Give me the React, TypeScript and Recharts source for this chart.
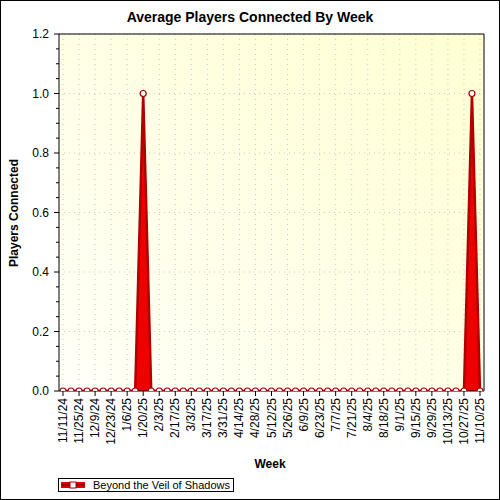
import { ComposedChart, Area, XAxis, YAxis, CartesianGrid } from 'recharts';

// weekly buckets, Monday of each week
const weeks = [
  '11/11/24', '11/18/24', '11/25/24', '12/2/24', '12/9/24', '12/16/24', '12/23/24', '12/30/24',
  '1/6/25', '1/13/25', '1/20/25', '1/27/25', '2/3/25', '2/10/25', '2/17/25', '2/24/25',
  '3/3/25', '3/10/25', '3/17/25', '3/24/25', '3/31/25', '4/7/25', '4/14/25', '4/21/25',
  '4/28/25', '5/5/25', '5/12/25', '5/19/25', '5/26/25', '6/2/25', '6/9/25', '6/16/25',
  '6/23/25', '6/30/25', '7/7/25', '7/14/25', '7/21/25', '7/28/25', '8/4/25', '8/11/25',
  '8/18/25', '8/25/25', '9/1/25', '9/8/25', '9/15/25', '9/22/25', '9/29/25', '10/6/25',
  '10/13/25', '10/20/25', '10/27/25', '11/3/25', '11/10/25',
];

const players = [
  0, 0, 0, 0, 0, 0, 0, 0, 0, 0, 1, 0, 0, 0, 0, 0,
  0, 0, 0, 0, 0, 0, 0, 0, 0, 0, 0, 0, 0, 0, 0, 0,
  0, 0, 0, 0, 0, 0, 0, 0, 0, 0, 0, 0, 0, 0, 0, 0,
  0, 0, 0, 1, 0,
];

// labelled x ticks (every second week) and every week for the top ruler
const labelTicks = [0, 2, 4, 6, 8, 10, 12, 14, 16, 18, 20, 22, 24, 26, 28, 30, 32, 34, 36, 38, 40, 42, 44, 46, 48, 50, 52];
const weekTicks = weeks.map((_, i) => i);

const yMajor = [0, 0.2, 0.4, 0.6, 0.8, 1.0, 1.2];
const yMinor = [
  0, 0.05, 0.1, 0.15, 0.2, 0.25, 0.3, 0.35, 0.4, 0.45, 0.5, 0.55, 0.6,
  0.65, 0.7, 0.75, 0.8, 0.85, 0.9, 0.95, 1.0, 1.05, 1.1, 1.15, 1.2,
];

const SERIES = 'Beyond the Veil of Shadows';
const FONT = '"Liberation Sans", Arial, sans-serif';

const data = weeks.map((week, i) => ({ i, week, players: players[i] }));

const isMajor = (v: number) => yMajor.some((m) => Math.abs(m - v) < 1e-6);

function WeekTick({ x, y, payload }: any) {
  return (
    <text
      x={x}
      y={y}
      dy={4}
      transform={`rotate(-90 ${x} ${y})`}
      textAnchor="end"
      fontSize={12}
      fontFamily={FONT}
      fill="#000"
    >
      {weeks[payload.value]}
    </text>
  );
}

function LeftTick({ x, y, payload }: any) {
  const major = isMajor(payload.value);
  return (
    <g>
      <line x1={x - (major ? 5 : 3)} x2={x} y1={y} y2={y} stroke="#000" />
      {major && (
        <text x={x - 10} y={y} dy={4} textAnchor="end" fontSize={12} fontFamily={FONT} fill="#000">
          {payload.value.toFixed(1)}
        </text>
      )}
    </g>
  );
}

function LegendBox() {
  return (
    <div
      style={{
        position: 'absolute',
        left: 58,
        top: 478,
        border: '1px solid #000',
        width: 174,
        height: 12,
        display: 'flex',
        alignItems: 'center',
        fontFamily: FONT,
        fontSize: 11,
        background: '#fff',
      }}
    >
      <svg width={30} height={12}>
        <rect x={2} y={3} width={24} height={6} fill="#e00000" />
        <rect x={2} y={5} width={24} height={2} fill="#a00000" />
        <rect x={11} y={3} width={6} height={6} fill="#fff" stroke="#a00000" />
      </svg>
      <span style={{ marginLeft: 4, lineHeight: '12px' }}>{SERIES}</span>
    </div>
  );
}

export default function App() {
  return (
    <div style={{ position: 'absolute', left: 0, top: 0, width: 500, height: 500, background: '#fff' }}>
      <ComposedChart
        width={500}
        height={500}
        data={data}
        margin={{ top: 34, right: 16, bottom: 49, left: 19 }}
      >
        <defs>
          <linearGradient id="plotBg" x1="0" y1="1" x2="1" y2="0">
            <stop offset="0%" stopColor="#fffff8" />
            <stop offset="100%" stopColor="#ffffd2" />
          </linearGradient>
        </defs>
        <CartesianGrid
          xAxisId="x"
          yAxisId="y"
          fill="url(#plotBg)"
          fillOpacity={1}
          stroke="#c8c8c8"
          strokeDasharray="1 4"
          horizontalValues={yMajor}
          verticalValues={labelTicks}
        />
        <XAxis
          xAxisId="x"
          dataKey="i"
          type="number"
          domain={[-0.5, 52.5]}
          allowDataOverflow
          ticks={labelTicks}
          interval={0}
          height={60}
          tickSize={5}
          tickMargin={2}
          stroke="#000"
          tick={<WeekTick />}
        />
        <XAxis
          xAxisId="top"
          orientation="top"
          type="number"
          domain={[-0.5, 52.5]}
          allowDataOverflow
          ticks={weekTicks}
          interval={0}
          height={10}
          mirror
          tick={false}
          tickSize={3}
          stroke="#000"
        />
        <YAxis
          yAxisId="y"
          domain={[0, 1.2]}
          allowDataOverflow
          ticks={yMinor}
          interval={0}
          width={40}
          tickSize={0}
          tickMargin={0}
          tickLine={false}
          stroke="#000"
          tick={<LeftTick />}
        />
        <YAxis
          yAxisId="r"
          orientation="right"
          domain={[0, 1.2]}
          allowDataOverflow
          ticks={yMinor}
          interval={0}
          width={10}
          mirror
          tick={false}
          tickSize={3}
          stroke="#000"
        />
        <Area
          xAxisId="x"
          yAxisId="y"
          type="linear"
          dataKey="players"
          name={SERIES}
          stroke="#b00000"
          strokeWidth={2.5}
          fill="#ee0000"
          fillOpacity={1}
          dot={{ r: 3, fill: '#fff', stroke: '#a00000', strokeWidth: 1.2 }}
          activeDot={false}
          isAnimationActive={false}
        />
        <text x={250} y={22} textAnchor="middle" fontFamily={FONT} fontSize={14} fontWeight="bold" fill="#000">
          Average Players Connected By Week
        </text>
        <text x={270} y={468} textAnchor="middle" fontFamily={FONT} fontSize={12} fontWeight="bold" fill="#000">
          Week
        </text>
        <text
          x={18}
          y={213}
          transform="rotate(-90 18 213)"
          textAnchor="middle"
          fontFamily={FONT}
          fontSize={12}
          fontWeight="bold"
          fill="#000"
        >
          Players Connected
        </text>
      </ComposedChart>
      <LegendBox />
      <div
        style={{
          position: 'absolute',
          inset: 0,
          border: '1px solid #000',
          pointerEvents: 'none',
        }}
      />
    </div>
  );
}
